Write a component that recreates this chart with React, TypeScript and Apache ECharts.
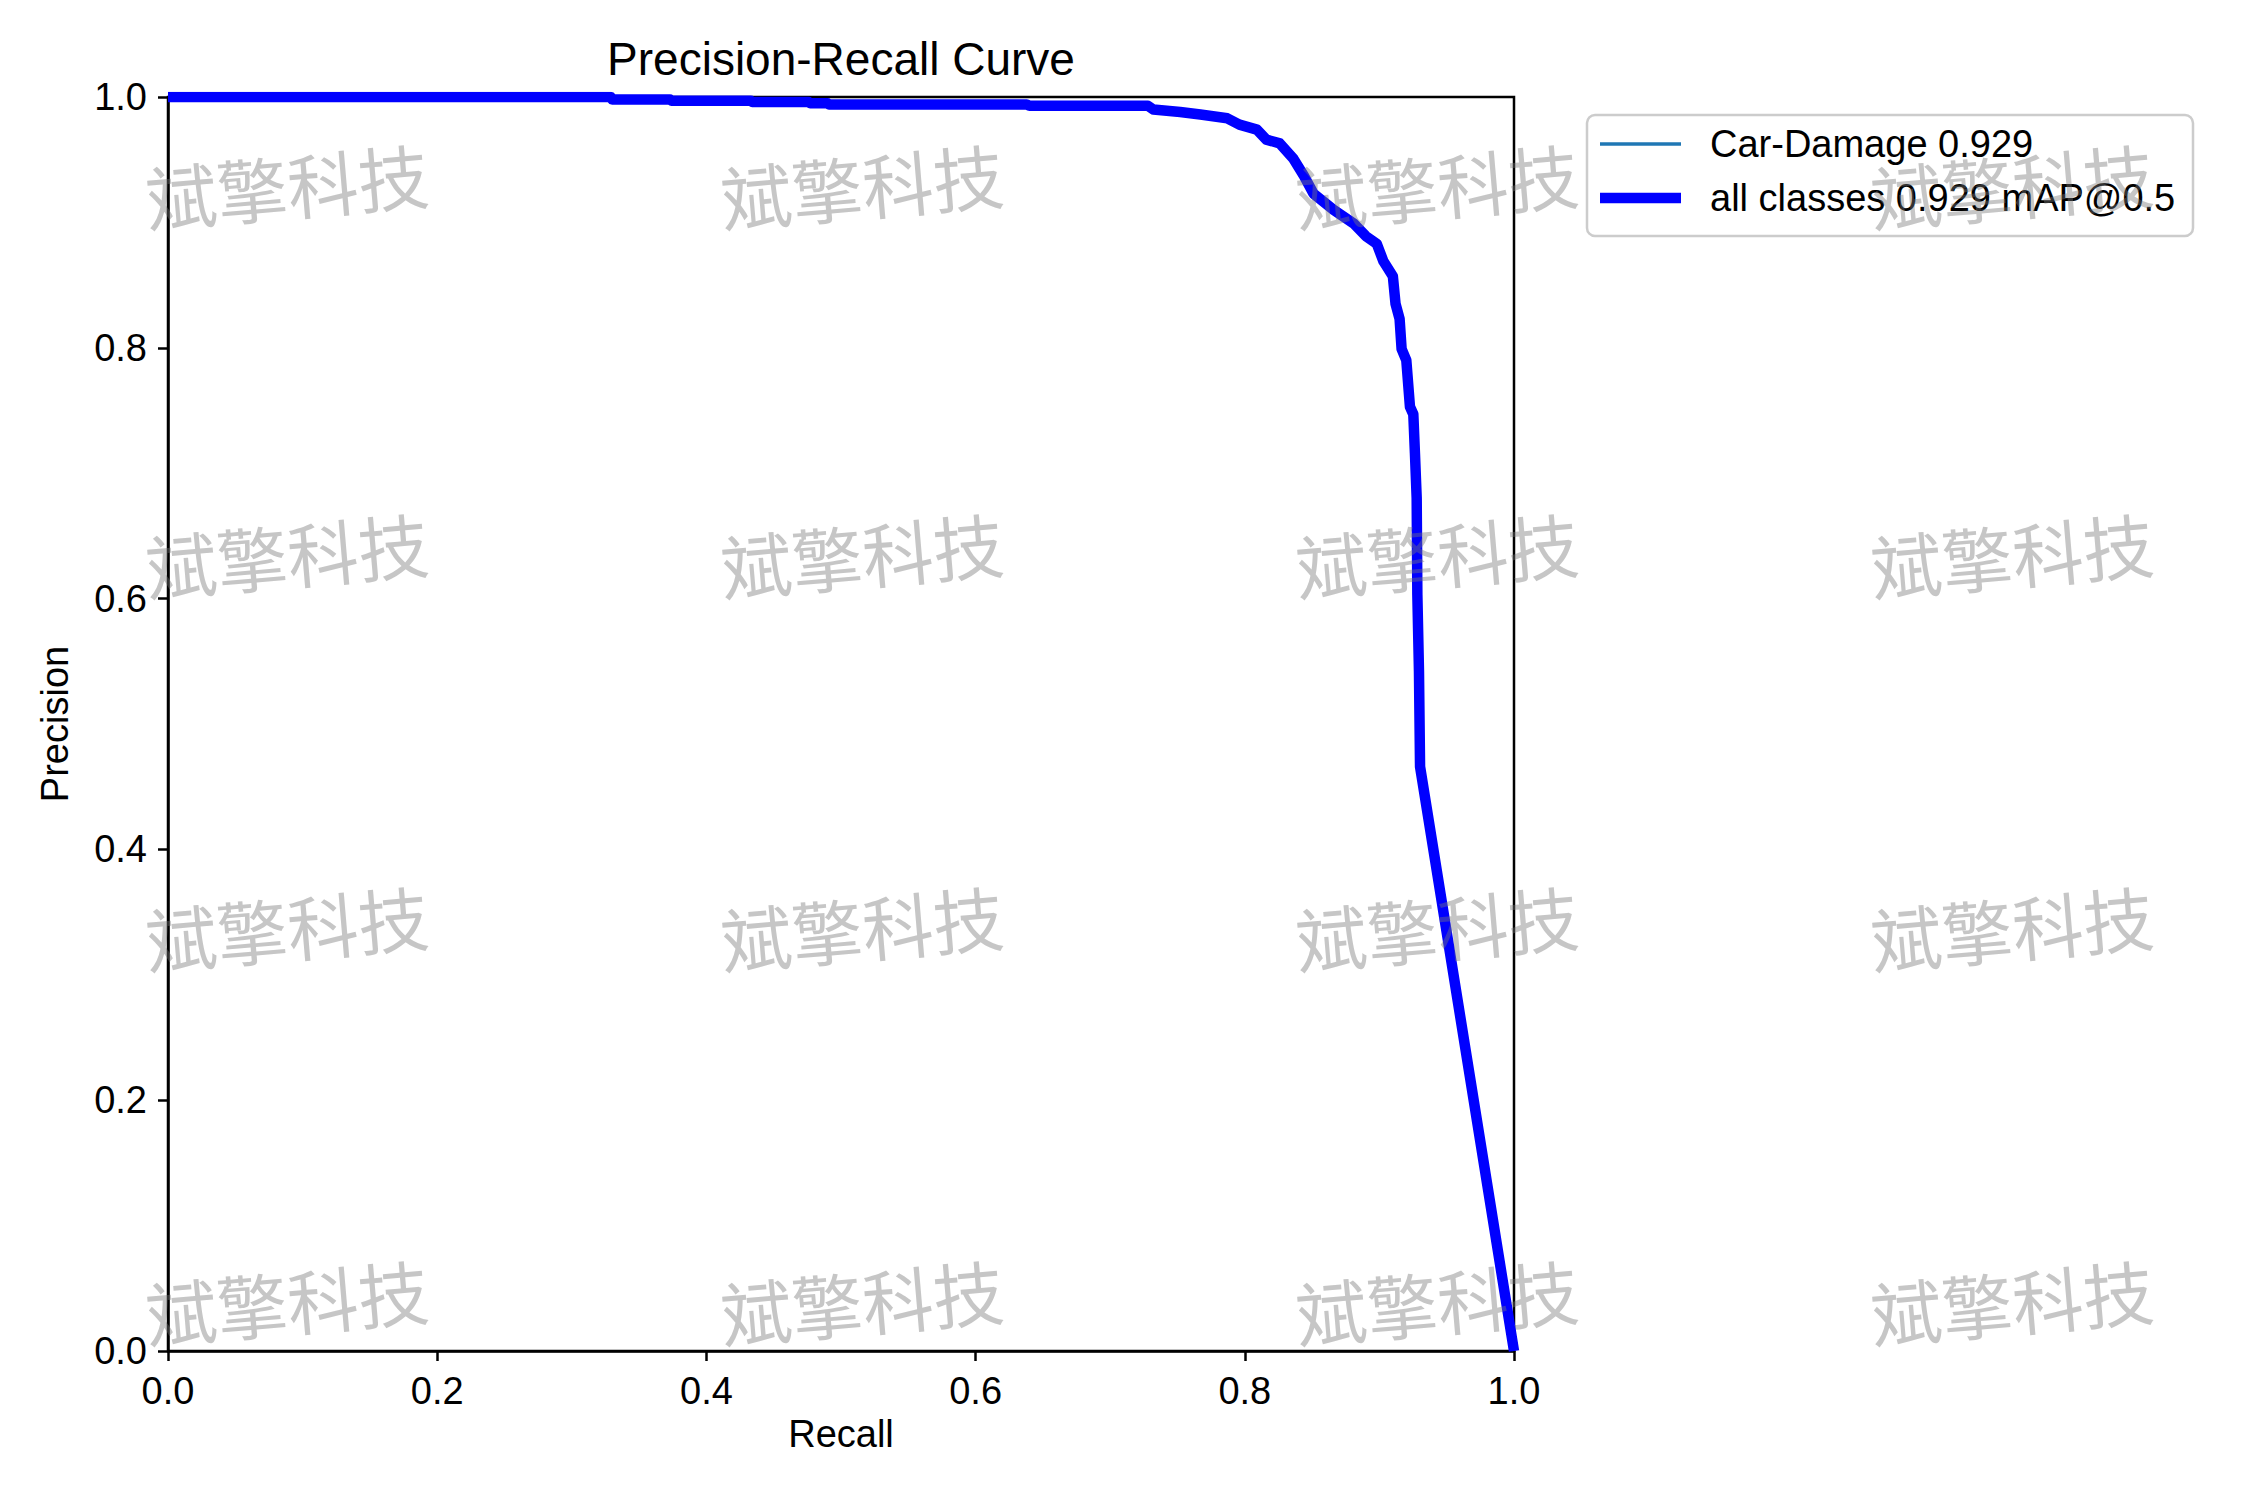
import React, { useEffect, useRef } from "react";
import * as echarts from "echarts";

// ---- data ----
const recall = [
  0, 0.329, 0.33, 0.373, 0.374, 0.433, 0.434, 0.476, 0.477, 0.49, 0.491, 0.638, 0.64,
  0.728, 0.732, 0.752, 0.767, 0.787, 0.796, 0.809, 0.816, 0.826, 0.836, 0.844, 0.851,
  0.866, 0.881, 0.89, 0.898, 0.903, 0.91, 0.912, 0.915, 0.9165, 0.92, 0.9227, 0.9252,
  0.9264, 0.9277, 0.9282, 0.9294, 0.9302, 1.0,
];
const precision = [
  1.0, 1.0, 0.998, 0.998, 0.997, 0.997, 0.996, 0.996, 0.995, 0.995, 0.994, 0.994, 0.993,
  0.993, 0.99, 0.988, 0.986, 0.983, 0.978, 0.974, 0.966, 0.963, 0.951, 0.937, 0.923,
  0.91, 0.899, 0.889, 0.883, 0.869, 0.857, 0.835, 0.823, 0.799, 0.79, 0.753, 0.747,
  0.716, 0.68, 0.603, 0.542, 0.466, 0.0,
];
const classNames = ["Car-Damage 0.929", "all classes 0.929 mAP@0.5"];
const tickValues = [0, 0.2, 0.4, 0.6, 0.8, 1.0];
const titleText = "Precision-Recall Curve";
const xName = "Recall";
const yName = "Precision";
const watermarkText = "斌擎科技";
const watermarkCols = [287, 862, 1437, 2012];
const watermarkRows = [184, 553, 926, 1300];

const FONT = "'Liberation Sans', Arial, Helvetica, sans-serif";
const FS = 38;

export default function App() {
  const ref = useRef<HTMLDivElement>(null);
  useEffect(() => {
    document.body.style.margin = "0";
    if (!ref.current) return;
    const chart = echarts.init(ref.current, undefined, { renderer: "svg" });
    const pts = recall.map((r, i) => [r, precision[i]]);

    const gridLeft = 168;
    const gridTop = 97;
    const gridW = 1346;
    const gridH = 1254;

    const watermarks: any[] = [];
    watermarkRows.forEach((y) =>
      watermarkCols.forEach((x) =>
        watermarks.push({
          type: "text",
          x,
          y,
          rotation: 0.085,
          z: 100,
          silent: true,
          style: {
            text: watermarkText,
            fontSize: 71,
            fontFamily: "'Noto Sans CJK SC', sans-serif",
            fill: "rgba(120,120,120,0.42)",
            align: "center",
            verticalAlign: "middle",
          },
        })
      )
    );

    const axisCommon = {
      type: "value",
      min: 0,
      max: 1,
      interval: 0.2,
      splitLine: { show: false },
      axisLine: { show: true, lineStyle: { color: "#000", width: 2.5 } },
      axisTick: { show: true, inside: false, length: 10, lineStyle: { color: "#000", width: 2.5 } },
      axisLabel: {
        color: "#000",
        fontSize: FS,
        fontFamily: FONT,
        formatter: (v: number) => (tickValues.some((t) => Math.abs(t - v) < 1e-9) ? v.toFixed(1) : ""),
      },
      nameLocation: "middle",
      nameTextStyle: { color: "#000", fontSize: FS, fontFamily: FONT },
    };

    chart.setOption({
      animation: false,
      backgroundColor: "#fff",
      title: {
        text: titleText,
        left: 841,
        top: 36,
        textAlign: "center",
        padding: 0,
        textStyle: { color: "#000", fontSize: 46, fontWeight: "normal", fontFamily: FONT },
      },
      grid: {
        left: gridLeft,
        top: gridTop,
        width: gridW,
        height: gridH,
        show: true,
        borderColor: "#000",
        borderWidth: 2.5,
        backgroundColor: "transparent",
        containLabel: false,
      },
      xAxis: {
        ...axisCommon,
        name: xName,
        nameGap: 64,
        axisLabel: { ...axisCommon.axisLabel, margin: 21 },
      },
      yAxis: {
        ...axisCommon,
        name: yName,
        nameGap: 94,
        axisLabel: { ...axisCommon.axisLabel, margin: 21 },
      },
      legend: [
        {
          data: [classNames[0]],
          left: 1600,
          top: 124,
          padding: 0,
          icon: "rect",
          itemWidth: 81,
          itemHeight: 3.5,
          selectedMode: false,
          textStyle: { color: "#000", fontSize: FS, fontFamily: FONT, lineHeight: 40, padding: [0, 0, 0, 24] },
        },
        {
          data: [classNames[1]],
          left: 1600,
          top: 178,
          padding: 0,
          icon: "rect",
          itemWidth: 81,
          itemHeight: 10.5,
          selectedMode: false,
          textStyle: { color: "#000", fontSize: FS, fontFamily: FONT, lineHeight: 40, padding: [0, 0, 0, 24] },
        },
      ],
      graphic: [
        {
          type: "rect",
          z: 1,
          silent: true,
          shape: { x: 1587, y: 115, width: 606, height: 121, r: 8 },
          style: { fill: "#fff", stroke: "#cccccc", lineWidth: 2.5 },
        },
        ...watermarks,
      ],
      series: [
        {
          name: classNames[0],
          type: "line",
          data: pts,
          showSymbol: false,
          symbol: "none",
          clip: true,
          itemStyle: { color: "#1f77b4" },
          lineStyle: { color: "#1f77b4", width: 3.5 },
          z: 2,
        },
        {
          name: classNames[1],
          type: "line",
          data: pts,
          showSymbol: false,
          symbol: "none",
          clip: true,
          itemStyle: { color: "#0000ff" },
          lineStyle: { color: "#0000ff", width: 10.5, join: "round", cap: "butt" },
          z: 3,
        },
      ],
    });
    return () => chart.dispose();
  }, []);
  return <div ref={ref} style={{ width: 2250, height: 1500 }} />;
}
